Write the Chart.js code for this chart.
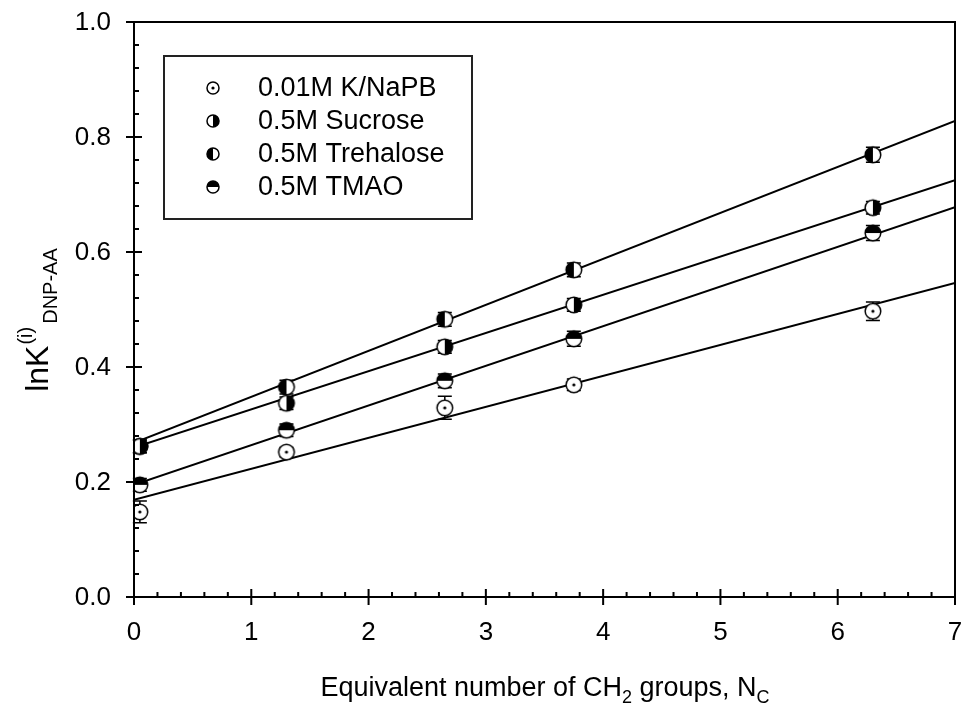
<!DOCTYPE html>
<html>
<head>
<meta charset="utf-8">
<script src="https://cdn.jsdelivr.net/npm/chart.js@4.4.1/dist/chart.umd.min.js"></script>
<style>
  html, body { margin: 0; padding: 0; background: #fff; }
  #wrap { width: 965px; height: 709px; }
</style>
</head>
<body>
<div id="wrap"><canvas id="chart" width="965" height="709"></canvas></div>
<script>
const FONT = '"Liberation Sans", Arial, Helvetica, sans-serif';

// equivalent number of CH2 groups of each solute
const nc = [0.05, 1.3, 2.65, 3.75, 6.3];

const buffer = [0.148, 0.252, 0.329, 0.369, 0.497];
const bufferErr = [0.019, 0.008, 0.020, 0.010, 0.016];
const sucrose = [0.262, 0.337, 0.435, 0.508, 0.677];
const sucroseErr = [0.011, 0.011, 0.011, 0.011, 0.011];
const trehalose = [0.262, 0.365, 0.483, 0.569, 0.769];
const trehaloseErr = [0.011, 0.012, 0.012, 0.012, 0.013];
const tmao = [0.195, 0.290, 0.376, 0.449, 0.633];
const tmaoErr = [0.011, 0.011, 0.012, 0.013, 0.013];

// linear fits, evaluated at the ends of the x axis
const fitX = [0, 7];
const bufferFit = [0.169, 0.546];
const sucroseFit = [0.260, 0.725];
const trehaloseFit = [0.268, 0.828];
const tmaoFit = [0.195, 0.678];

const labels = ['0.01M K/NaPB', '0.5M Sucrose', '0.5M Trehalose', '0.5M TMAO'];
const xTickValues = [0, 1, 2, 3, 4, 5, 6, 7];
const xTickLabels = ['0', '1', '2', '3', '4', '5', '6', '7'];
const yTickValues = [0.0, 0.2, 0.4, 0.6, 0.8, 1.0];
const yTickLabels = ['0.0', '0.2', '0.4', '0.6', '0.8', '1.0'];

// circle markers: open with a dot, or half filled on one side
function makeMarker(kind, r) {
  const size = Math.ceil(r * 2 + 4);
  const c = document.createElement('canvas');
  c.width = c.height = size;
  const g = c.getContext('2d');
  const m = size / 2;
  g.fillStyle = '#fff';
  g.beginPath();
  g.arc(m, m, r, 0, Math.PI * 2);
  g.fill();
  g.fillStyle = '#000';
  g.beginPath();
  if (kind === 'dot') {
    g.arc(m, m, 1.6, 0, Math.PI * 2);
  } else if (kind === 'right') {
    g.moveTo(m, m);
    g.arc(m, m, r, -Math.PI / 2, Math.PI / 2);
  } else if (kind === 'left') {
    g.moveTo(m, m);
    g.arc(m, m, r, Math.PI / 2, Math.PI * 1.5);
  } else if (kind === 'top') {
    g.moveTo(m, m);
    g.arc(m, m, r, Math.PI, Math.PI * 2);
  }
  g.closePath();
  g.fill();
  g.strokeStyle = '#000';
  g.lineWidth = 1.5;
  g.beginPath();
  g.arc(m, m, r, 0, Math.PI * 2);
  g.stroke();
  return c;
}

const kinds = ['dot', 'right', 'left', 'top'];
const plotMarkers = kinds.map(k => makeMarker(k, 7.8));
const legendMarkers = kinds.map(k => makeMarker(k, 6));

const series = [buffer, sucrose, trehalose, tmao];
const errors = [bufferErr, sucroseErr, trehaloseErr, tmaoErr];
const fits = [bufferFit, sucroseFit, trehaloseFit, tmaoFit];

const datasets = [];
series.forEach((ys, i) => {
  datasets.push({
    label: labels[i],
    data: nc.map((x, j) => ({ x: x, y: ys[j] })),
    errors: errors[i],
    legendMarker: legendMarkers[i],
    showLine: false,
    pointStyle: plotMarkers[i],
    pointRadius: 8,
    order: 1
  });
});
fits.forEach((ys) => {
  datasets.push({
    data: fitX.map((x, j) => ({ x: x, y: ys[j] })),
    showLine: true,
    borderColor: '#000',
    borderWidth: 2,
    pointRadius: 0,
    order: 2
  });
});

const errorBars = {
  id: 'errorBars',
  beforeDatasetsDraw(chart) {
    const ctx = chart.ctx;
    const xs = chart.scales.x, ys = chart.scales.y;
    ctx.save();
    ctx.strokeStyle = '#000';
    ctx.lineWidth = 1.5;
    chart.data.datasets.forEach(ds => {
      if (!ds.errors) return;
      ds.data.forEach((p, j) => {
        const e = ds.errors[j];
        const px = xs.getPixelForValue(p.x);
        const top = ys.getPixelForValue(p.y + e);
        const bot = ys.getPixelForValue(p.y - e);
        ctx.beginPath();
        ctx.moveTo(px, top); ctx.lineTo(px, bot);
        ctx.moveTo(px - 7, top); ctx.lineTo(px + 7, top);
        ctx.moveTo(px - 7, bot); ctx.lineTo(px + 7, bot);
        ctx.stroke();
      });
    });
    ctx.restore();
  }
};

// frame, crossing major ticks, inward minor ticks and tick labels
const axesFrame = {
  id: 'axesFrame',
  afterDraw(chart) {
    const ctx = chart.ctx;
    const a = chart.chartArea;
    const xs = chart.scales.x, ys = chart.scales.y;
    ctx.save();
    ctx.strokeStyle = '#000';
    ctx.lineWidth = 2;
    ctx.beginPath();
    ctx.moveTo(a.left, a.bottom); ctx.lineTo(a.left, a.top);
    ctx.lineTo(a.right, a.top); ctx.lineTo(a.right, a.bottom);
    ctx.lineTo(a.left, a.bottom);
    ctx.stroke();

    ctx.beginPath();
    xTickValues.forEach((v, i) => {
      const px = xs.getPixelForValue(v);
      ctx.moveTo(px, a.bottom - 8); ctx.lineTo(px, a.bottom + 8);
      if (i < xTickValues.length - 1) {
        const step = (xTickValues[i + 1] - v) / 5;
        for (let k = 1; k < 5; k++) {
          const mx = xs.getPixelForValue(v + k * step);
          ctx.moveTo(mx, a.bottom); ctx.lineTo(mx, a.bottom - 5);
        }
      }
    });
    yTickValues.forEach((v, i) => {
      const py = ys.getPixelForValue(v);
      ctx.moveTo(a.left - 8, py); ctx.lineTo(a.left + 8, py);
      if (i < yTickValues.length - 1) {
        const step = (yTickValues[i + 1] - v) / 5;
        for (let k = 1; k < 5; k++) {
          const my = ys.getPixelForValue(v + k * step);
          ctx.moveTo(a.left, my); ctx.lineTo(a.left + 5, my);
        }
      }
    });
    ctx.stroke();

    ctx.fillStyle = '#000';
    ctx.font = '26px ' + FONT;
    ctx.textBaseline = 'middle';
    ctx.textAlign = 'center';
    xTickValues.forEach((v, i) => {
      ctx.fillText(xTickLabels[i], xs.getPixelForValue(v), a.bottom + 36);
    });
    ctx.textAlign = 'right';
    yTickValues.forEach((v, i) => {
      ctx.fillText(yTickLabels[i], a.left - 23, ys.getPixelForValue(v) + 1);
    });
    ctx.restore();
  }
};

const legendBox = {
  id: 'legendBox',
  afterDraw(chart) {
    const ctx = chart.ctx;
    ctx.save();
    ctx.strokeStyle = '#222';
    ctx.lineWidth = 2;
    ctx.strokeRect(164, 56, 308, 163);
    ctx.font = '27px ' + FONT;
    ctx.fillStyle = '#000';
    ctx.textBaseline = 'middle';
    let row = 0;
    chart.data.datasets.forEach(ds => {
      if (!ds.legendMarker) return;
      const y = 88 + row * 33;
      const m = ds.legendMarker;
      ctx.drawImage(m, 213 - m.width / 2, y - m.height / 2);
      ctx.fillText(ds.label, 258, y + 1);
      row++;
    });
    ctx.restore();
  }
};

// draws runs of text with sub/superscript offsets, centred on (0, 0)
function drawRuns(ctx, runs) {
  let total = 0;
  runs.forEach(r => {
    ctx.font = r.size + 'px ' + FONT;
    r.w = ctx.measureText(r.text).width;
    total += r.w + (r.gap || 0);
  });
  let x = -total / 2;
  runs.forEach(r => {
    ctx.font = r.size + 'px ' + FONT;
    ctx.fillText(r.text, x, r.shift || 0);
    x += r.w + (r.gap || 0);
  });
}

const axisTitles = {
  id: 'axisTitles',
  afterDraw(chart) {
    const ctx = chart.ctx;
    ctx.save();
    ctx.fillStyle = '#000';
    ctx.textBaseline = 'alphabetic';
    ctx.textAlign = 'left';
    ctx.save();
    ctx.translate(545, 696);
    drawRuns(ctx, [
      { text: 'Equivalent number of CH', size: 27 },
      { text: '2', size: 18, shift: 7 },
      { text: ' groups, N', size: 27 },
      { text: 'C', size: 18, shift: 7 }
    ]);
    ctx.restore();
    ctx.save();
    ctx.translate(48, 320);
    ctx.rotate(-Math.PI / 2);
    drawRuns(ctx, [
      { text: 'lnK', size: 32, gap: 1 },
      { text: '(i)', size: 20, shift: -16, gap: 3 },
      { text: 'DNP-AA', size: 20, shift: 9 }
    ]);
    ctx.restore();
    ctx.restore();
  }
};

new Chart(document.getElementById('chart'), {
  type: 'scatter',
  data: { datasets: datasets },
  options: {
    responsive: false,
    animation: false,
    devicePixelRatio: 1,
    layout: { padding: { top: 22, right: 10, left: 0, bottom: 0 } },
    plugins: { legend: { display: false }, tooltip: { enabled: false } },
    scales: {
      x: {
        type: 'linear',
        min: 0, max: 7,
        afterFit: s => { s.height = 112; },
        grid: { display: false, drawTicks: false },
        border: { display: false },
        ticks: { display: false }
      },
      y: {
        type: 'linear',
        min: 0, max: 1,
        afterFit: s => { s.width = 134; },
        grid: { display: false, drawTicks: false },
        border: { display: false },
        ticks: { display: false }
      }
    }
  },
  plugins: [errorBars, axesFrame, legendBox, axisTitles]
});
</script>
</body>
</html>
